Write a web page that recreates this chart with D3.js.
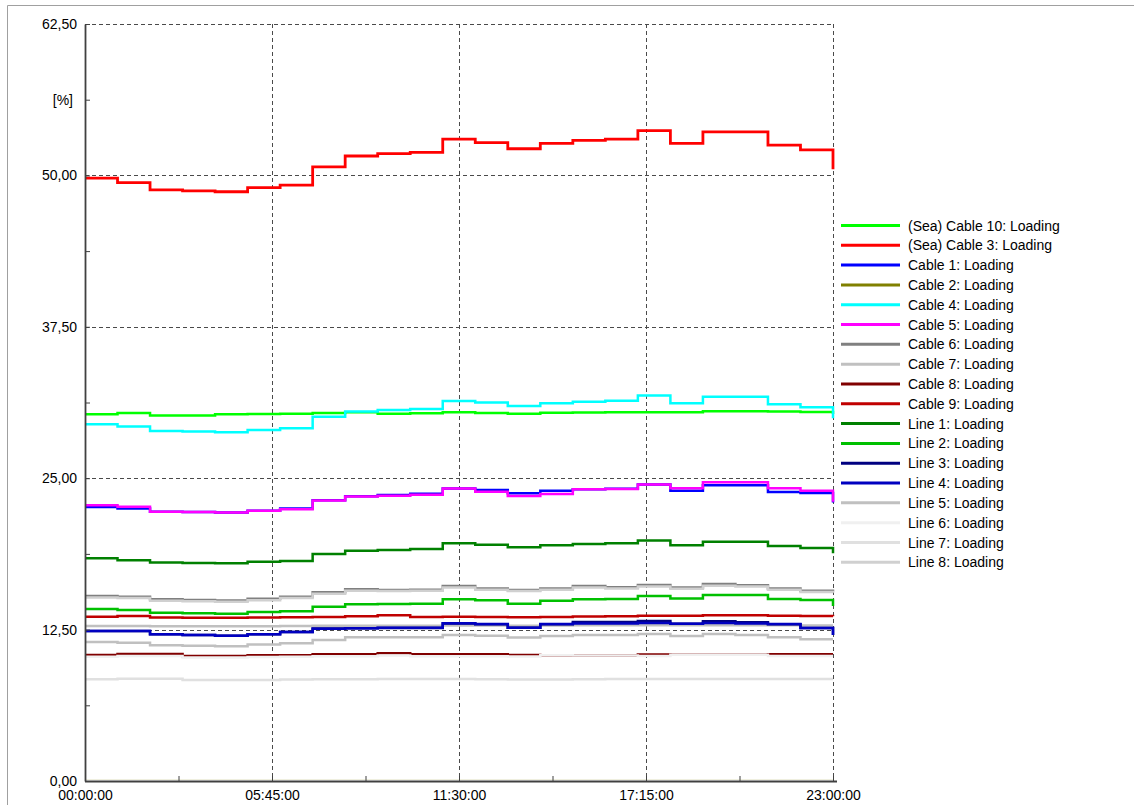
<!DOCTYPE html>
<html>
<head>
<meta charset="utf-8">
<script src="https://cdn.jsdelivr.net/npm/d3@7"></script>
<style>
  body { margin: 0; background: #fff; }
  svg text { font-family: "Liberation Sans", Arial, sans-serif; font-size: 14px; fill: #000; }
</style>
</head>
<body>
<div id="plot"></div>
<script>
// time points (hours)
const hours = [0, 1, 2, 3, 4, 5, 6, 7, 8, 9, 10, 11, 12, 13, 14, 15, 16, 17, 18, 19, 20, 21, 22, 23];

// loading values [%], one per hour
const seaCable10 = [30.28, 30.39, 30.17, 30.17, 30.28, 30.30, 30.33, 30.39, 30.44, 30.33, 30.36, 30.44, 30.38, 30.33, 30.40, 30.42, 30.44, 30.44, 30.44, 30.53, 30.52, 30.50, 30.47, 30.30];
const seaCable3  = [49.77, 49.40, 48.80, 48.72, 48.65, 48.99, 49.20, 50.70, 51.60, 51.80, 51.90, 53.00, 52.70, 52.20, 52.65, 52.90, 53.00, 53.70, 52.65, 53.60, 53.60, 52.50, 52.10, 50.50];
const cable1 = [22.62, 22.50, 22.24, 22.20, 22.17, 22.32, 22.50, 23.18, 23.52, 23.62, 23.72, 24.15, 24.03, 23.75, 23.97, 24.09, 24.12, 24.47, 23.97, 24.41, 24.41, 23.86, 23.78, 23.00];
const cable2 = [0, 0, 0, 0, 0, 0, 0, 0, 0, 0, 0, 0, 0, 0, 0, 0, 0, 0, 0, 0, 0, 0, 0, 0];
const cable4 = [29.45, 29.26, 28.90, 28.85, 28.80, 28.98, 29.12, 30.08, 30.50, 30.64, 30.72, 31.38, 31.24, 30.97, 31.19, 31.32, 31.40, 31.82, 31.19, 31.73, 31.73, 31.10, 30.86, 29.95];
const cable5 = [22.76, 22.65, 22.24, 22.20, 22.17, 22.32, 22.43, 23.15, 23.48, 23.56, 23.64, 24.15, 23.89, 23.53, 23.70, 24.09, 24.11, 24.47, 24.16, 24.66, 24.66, 24.16, 23.97, 23.06];
const cable6 = [15.28, 15.22, 15.00, 14.95, 14.90, 15.05, 15.22, 15.58, 15.83, 15.77, 15.80, 16.10, 15.90, 15.77, 15.90, 16.10, 16.00, 16.19, 15.97, 16.27, 16.16, 15.90, 15.71, 15.65];
const cable7 = [12.80, 12.80, 12.78, 12.78, 12.78, 12.78, 12.80, 12.82, 12.82, 12.82, 12.82, 12.84, 12.84, 12.82, 12.84, 12.85, 12.85, 12.86, 12.85, 12.86, 12.86, 12.85, 12.84, 12.84];
const cable8 = [10.40, 10.49, 10.49, 10.32, 10.32, 10.38, 10.38, 10.46, 10.46, 10.54, 10.46, 10.46, 10.46, 10.40, 10.38, 10.36, 10.36, 10.45, 10.42, 10.42, 10.42, 10.46, 10.46, 10.46];
const cable9 = [13.57, 13.62, 13.49, 13.48, 13.48, 13.50, 13.52, 13.55, 13.60, 13.68, 13.55, 13.57, 13.55, 13.52, 13.55, 13.58, 13.60, 13.65, 13.65, 13.68, 13.68, 13.65, 13.62, 13.60];
const line1 = [18.39, 18.22, 18.03, 18.00, 17.97, 18.11, 18.17, 18.74, 19.02, 19.07, 19.15, 19.62, 19.51, 19.30, 19.46, 19.57, 19.62, 19.85, 19.46, 19.76, 19.76, 19.40, 19.24, 18.80];
const line2 = [14.20, 14.12, 13.90, 13.85, 13.80, 13.96, 14.01, 14.39, 14.59, 14.62, 14.64, 15.00, 14.92, 14.64, 14.89, 15.00, 15.03, 15.28, 15.06, 15.36, 15.36, 15.03, 14.95, 14.45];
const line3 = [12.39, 12.39, 12.11, 12.05, 12.00, 12.11, 12.30, 12.60, 12.62, 12.64, 12.64, 13.00, 12.95, 12.66, 12.95, 13.12, 13.12, 13.20, 12.98, 13.18, 13.10, 12.95, 12.63, 12.05];
const line4 = [12.39, 12.39, 12.11, 12.05, 12.00, 12.11, 12.30, 12.58, 12.62, 12.66, 12.66, 13.02, 12.96, 12.66, 12.96, 13.00, 13.00, 13.05, 12.99, 13.05, 13.00, 12.96, 12.63, 12.05];
const line5 = [11.48, 11.42, 11.20, 11.16, 11.12, 11.26, 11.37, 11.64, 11.87, 11.87, 11.87, 12.06, 12.00, 11.84, 11.97, 12.06, 12.06, 12.14, 11.97, 12.14, 12.06, 11.87, 11.70, 11.70];
const line6 = [10.25, 10.32, 10.32, 10.20, 10.20, 10.24, 10.25, 10.30, 10.31, 10.36, 10.31, 10.31, 10.31, 10.28, 10.38, 10.36, 10.36, 10.32, 10.42, 10.42, 10.42, 10.32, 10.32, 10.32];
const line7 = [8.40, 8.45, 8.45, 8.34, 8.34, 8.34, 8.38, 8.40, 8.40, 8.42, 8.42, 8.42, 8.40, 8.38, 8.38, 8.40, 8.42, 8.42, 8.42, 8.42, 8.42, 8.42, 8.42, 8.42];
const line8 = [15.15, 15.10, 14.88, 14.84, 14.80, 14.93, 15.10, 15.45, 15.70, 15.68, 15.70, 15.97, 15.80, 15.68, 15.80, 15.98, 15.90, 16.05, 15.87, 16.12, 16.05, 15.80, 15.60, 15.55];

const seriesNames = ["(Sea) Cable 10: Loading", "(Sea) Cable 3: Loading", "Cable 1: Loading", "Cable 2: Loading",
    "Cable 4: Loading", "Cable 5: Loading", "Cable 6: Loading", "Cable 7: Loading", "Cable 8: Loading",
    "Cable 9: Loading", "Line 1: Loading", "Line 2: Loading", "Line 3: Loading", "Line 4: Loading",
    "Line 5: Loading", "Line 6: Loading", "Line 7: Loading", "Line 8: Loading"];
const seriesValues = [seaCable10, seaCable3, cable1, cable2, cable4, cable5, cable6, cable7, cable8,
    cable9, line1, line2, line3, line4, line5, line6, line7, line8];
const seriesColors = ["#00ff00", "#ff0000", "#0000ff", "#808000", "#00ffff", "#ff00ff", "#808080", "#c0c0c0", "#800000",
    "#c00000", "#008000", "#00c000", "#000080", "#0000c0", "#c0c0c0", "#f0f0f0", "#e0e0e0", "#d0d0d0"];

const yMajor = [0, 12.5, 25, 37.5, 50, 62.5];
const yMinor = [6.25, 18.75, 31.25, 43.75, 56.25];
const xMajor = [0, 5.75, 11.5, 17.25, 23];
const xMinor = [2.875, 8.625, 14.375, 20.125];

const W = 1134, H = 805;
const plot = {left: 85, right: 833, top: 24, bottom: 781};

const svg = d3.select("#plot")
    .append("svg")
    .attr("width", W)
    .attr("height", H);

// outer frame (only top and left visible)
svg.append("path")
    .attr("d", "M7.5," + H + "V5.5H" + W)
    .attr("fill", "none")
    .attr("stroke", "#a0a0a0")
    .attr("stroke-width", 1);

const x = d3.scaleLinear().domain([0, 23]).range([plot.left, plot.right]);
const y = d3.scaleLinear().domain([0, 62.5]).range([plot.bottom, plot.top]);

const fmtNum = d => d3.format(".2f")(d).replace(".", ",");
const fmtTime = h => {
    const hh = Math.floor(h), mm = Math.round((h - hh) * 60);
    return d3.format("02")(hh) + ":" + d3.format("02")(mm) + ":00";
};

// grid
svg.append("g")
    .selectAll("line")
    .data(yMajor.filter(d => d > 0))
    .enter()
    .append("line")
    .attr("x1", plot.left).attr("x2", plot.right)
    .attr("y1", d => Math.round(y(d)) + 0.5).attr("y2", d => Math.round(y(d)) + 0.5)
    .attr("stroke", "#4a4a4a")
    .attr("stroke-dasharray", "4,3");

svg.append("g")
    .selectAll("line")
    .data(xMajor.filter(d => d > 0))
    .enter()
    .append("line")
    .attr("y1", plot.top).attr("y2", plot.bottom)
    .attr("x1", d => Math.round(x(d)) + 0.5).attr("x2", d => Math.round(x(d)) + 0.5)
    .attr("stroke", "#4a4a4a")
    .attr("stroke-dasharray", "4,3");

// clip to plot area (keeps a zero series hidden under the axis)
svg.append("clipPath")
    .attr("id", "clip")
    .append("rect")
    .attr("x", plot.left).attr("y", plot.top)
    .attr("width", plot.right - plot.left + 2)
    .attr("height", plot.bottom - plot.top - 1.5);

const line = d3.line()
    .x((d, i) => x(hours[i]))
    .y(d => y(d))
    .curve(d3.curveStepAfter);

svg.append("g")
    .attr("clip-path", "url(#clip)")
    .selectAll("path")
    .data(seriesValues)
    .enter()
    .append("path")
    .attr("fill", "none")
    .attr("stroke", (d, i) => seriesColors[i])
    .attr("stroke-width", (d, i) => i === 1 ? 2.8 : 2.5)
    .attr("d", d => line(d));

// axes
const axisColor = "#404040";

const yAxis = svg.append("g")
    .attr("transform", "translate(" + plot.left + ",0)")
    .call(d3.axisLeft(y).tickValues(yMajor).tickFormat(fmtNum).tickSizeInner(-5).tickSizeOuter(0).tickPadding(8));

const yAxisMinor = svg.append("g")
    .attr("transform", "translate(" + plot.left + ",0)")
    .call(d3.axisLeft(y).tickValues(yMinor).tickFormat(d => d === 56.25 ? "[%]" : "").tickSizeInner(-5).tickSizeOuter(0).tickPadding(12));
yAxisMinor.select(".domain").remove();

const xAxis = svg.append("g")
    .attr("transform", "translate(0," + plot.bottom + ")")
    .call(d3.axisBottom(x).tickValues(xMajor).tickFormat(fmtTime).tickSizeInner(-5).tickSizeOuter(0).tickPadding(9));
xAxis.select(".domain").attr("d", "M" + plot.left + ",0.5H" + (plot.right + 4));

const xAxisMinor = svg.append("g")
    .attr("transform", "translate(0," + plot.bottom + ")")
    .call(d3.axisBottom(x).tickValues(xMinor).tickFormat("").tickSizeInner(-5).tickSizeOuter(0));
xAxisMinor.select(".domain").remove();

svg.selectAll(".domain").attr("stroke", axisColor).attr("stroke-width", 1.8);
svg.selectAll(".tick line").attr("stroke", axisColor);
svg.selectAll(".tick text").attr("fill", "#000").style("font-size", "14px");

// legend
const legendY = d3.scaleLinear().domain([0, seriesNames.length - 1]).range([225.5, 562.3]);

const legend = svg.append("g")
    .selectAll("g")
    .data(seriesNames)
    .enter()
    .append("g")
    .attr("transform", (d, i) => "translate(0," + legendY(i) + ")");

legend.append("line")
    .attr("x1", 841).attr("x2", 900)
    .attr("stroke", (d, i) => seriesColors[i])
    .attr("stroke-width", 3);

legend.append("text")
    .attr("x", 908)
    .attr("dy", "0.36em")
    .text(d => d);
</script>
</body>
</html>
